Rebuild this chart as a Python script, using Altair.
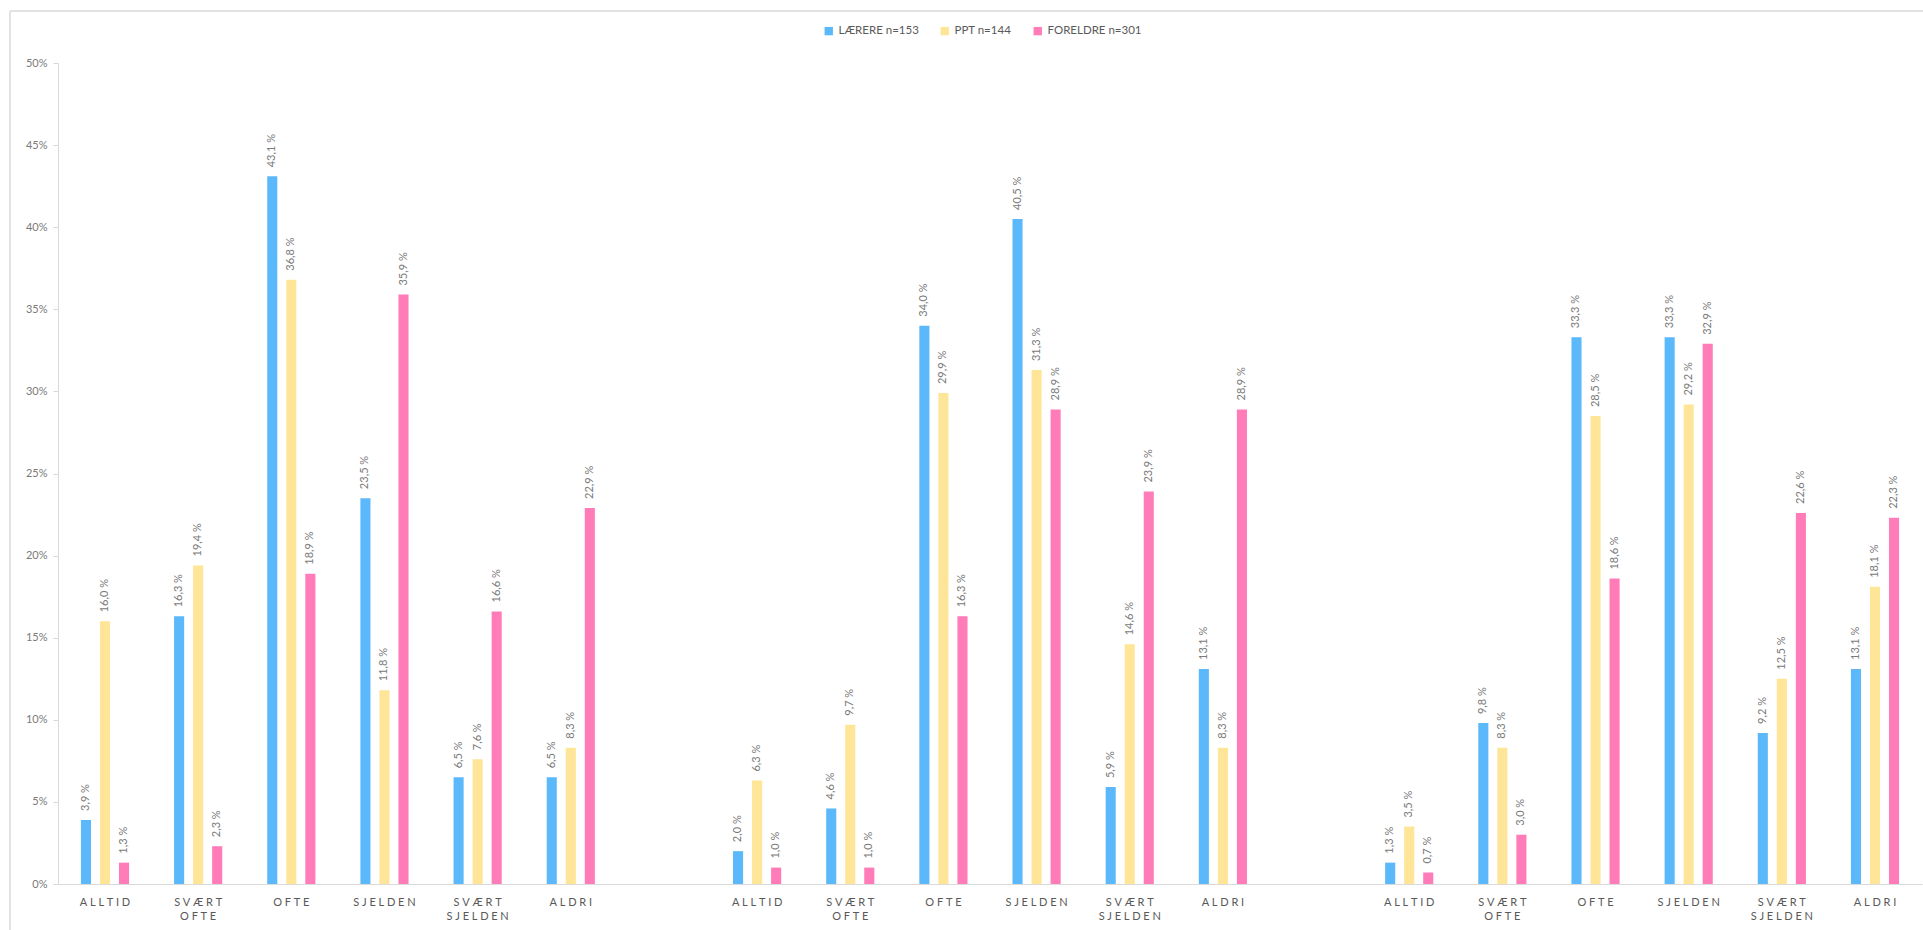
import altair as alt
import pandas as pd

# Answer categories (shown under every group of bars)
categories = ["ALLTID", "SVÆRT OFTE", "OFTE", "SJELDEN", "SVÆRT SJELDEN", "ALDRI"]

# Respondent groups
series = ["LÆRERE n=153", "PPT n=144", "FORELDRE n=301"]
colors = ["#5BB9FB", "#FFE597", "#FF7CB8"]

# Percent values, one list per respondent group, for each of the three questions
q1_laerere = [3.9, 16.3, 43.1, 23.5, 6.5, 6.5]
q1_ppt = [16.0, 19.4, 36.8, 11.8, 7.6, 8.3]
q1_foreldre = [1.3, 2.3, 18.9, 35.9, 16.6, 22.9]

q2_laerere = [2.0, 4.6, 34.0, 40.5, 5.9, 13.1]
q2_ppt = [6.3, 9.7, 29.9, 31.3, 14.6, 8.3]
q2_foreldre = [1.0, 1.0, 16.3, 28.9, 23.9, 28.9]

q3_laerere = [1.3, 9.8, 33.3, 33.3, 9.2, 13.1]
q3_ppt = [3.5, 8.3, 28.5, 29.2, 12.5, 18.1]
q3_foreldre = [0.7, 3.0, 18.6, 32.9, 22.6, 22.3]

y_ticks = [0, 5, 10, 15, 20, 25, 30, 35, 40, 45, 50]

questions = [
    [q1_laerere, q1_ppt, q1_foreldre],
    [q2_laerere, q2_ppt, q2_foreldre],
    [q3_laerere, q3_ppt, q3_foreldre],
]

TRACK = "\u2009\u2009"


def spaced(text):
    # tracked-out capitals, one line per word
    return "/".join(TRACK.join(word) for word in text.split(" "))


rows = []
domain = []
for g, q in enumerate(questions):
    if g > 0:
        domain.append(f"#gap{g}")
    for i, cat in enumerate(categories):
        key = f"{spaced(cat)}#{g}"
        domain.append(key)
        for s, name in enumerate(series):
            v = q[s][i]
            rows.append({
                "slot": key,
                "serie": name,
                "order": s,
                "value": v,
                "label": f"{v:.1f}".replace(".", ",") + " %",
            })

df = pd.DataFrame(rows)

FONT = "Lato"
GRAY = "#7a7a7a"
DARK = "#595959"
LINE = "#d9d9d9"
FRAME = "#e2e2e2"

x_enc = alt.X(
    "slot:N",
    sort=domain,
    scale=alt.Scale(domain=domain, paddingInner=0.387, paddingOuter=0.198),
    axis=alt.Axis(
        title=None,
        labelAngle=0,
        ticks=False,
        labelPadding=12,
        labelBaseline="top",
        labelLineHeight=14,
        labelFontSize=11,
        labelColor=DARK,
        labelFont=FONT,
        domainColor=LINE,
        labelExpr="split(split(datum.value, '#')[0], '/')",
    ),
)
xoff = alt.XOffset(
    "serie:N",
    sort=series,
    scale=alt.Scale(domain=series, paddingInner=0.47, paddingOuter=0.235),
)
y_enc = alt.Y(
    "value:Q",
    scale=alt.Scale(domain=[0, 50], nice=False),
    axis=alt.Axis(
        title=None,
        values=y_ticks,
        grid=False,
        labelExpr="datum.value + '%'",
        labelFontSize=11,
        labelColor=GRAY,
        labelFont=FONT,
        labelPadding=6,
        tickSize=5,
        tickColor=LINE,
        domainColor=LINE,
    ),
)
color_enc = alt.Color(
    "serie:N",
    sort=series,
    scale=alt.Scale(domain=series, range=colors),
    legend=alt.Legend(
        title=None,
        orient="none",
        direction="horizontal",
        legendX=765,
        legendY=-38,
        symbolType="square",
        symbolSize=70,
        symbolStrokeWidth=0,
        labelFontSize=11.5,
        labelColor=DARK,
        labelFont=FONT,
        columnPadding=20,
        labelOffset=4,
    ),
)

base = alt.Chart(df)

bars = base.mark_bar().encode(x=x_enc, xOffset=xoff, y=y_enc, color=color_enc)

labels = base.mark_text(
    angle=270, align="left", baseline="middle", dx=9,
    fontSize=11, font=FONT, color=GRAY,
).encode(x=x_enc, xOffset=xoff, y="value:Q", text="label:N")

# light frame around the chart area
frame_top = base.mark_rule(color=FRAME, strokeWidth=2).encode(
    x=alt.value(-48), x2=alt.value(1870), y=alt.value(-52)
)
frame_left = base.mark_rule(color=FRAME, strokeWidth=2).encode(
    x=alt.value(-48), y=alt.value(-52), y2=alt.value(870)
)

chart = (
    alt.layer(frame_top, frame_left, bars, labels)
    .properties(
        width=1864,
        height=821,
        autosize=alt.AutoSizeParams(type="none"),
        padding={"left": 58, "top": 63, "right": 1, "bottom": 46},
        background="white",
    )
    .configure_view(stroke=None)
)

chart.save("out.html", embed_options={"renderer": "svg", "actions": False})
